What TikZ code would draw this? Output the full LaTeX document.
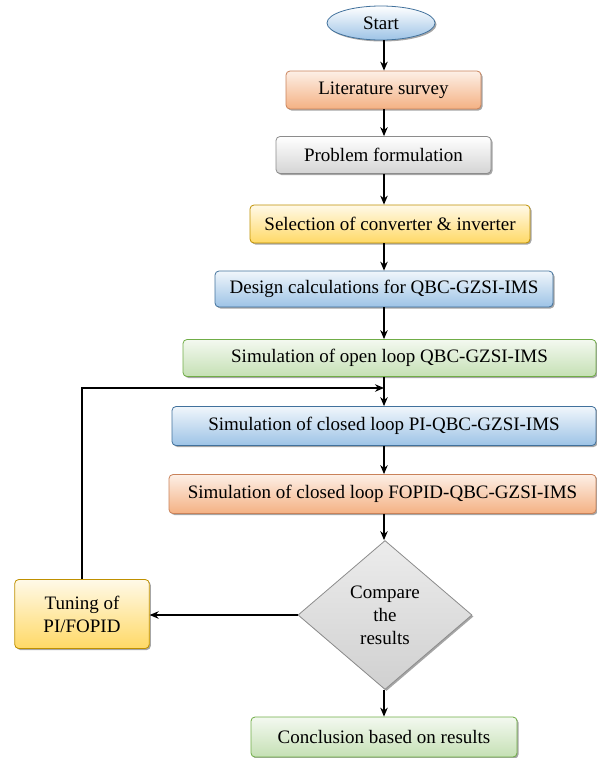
\documentclass[tikz,border=0pt]{standalone}
\usepackage{fontspec}
\setmainfont{Liberation Serif}
\usetikzlibrary{shapes.geometric,arrows.meta,shadows}
\definecolor{orngB}{HTML}{F4B183}
\definecolor{orngD}{HTML}{C9825A}
\definecolor{gryB}{HTML}{D4D4D4}
\definecolor{gryD}{HTML}{8C8C8C}
\definecolor{yelB}{HTML}{FFD966}
\definecolor{yelD}{HTML}{BF9000}
\definecolor{bluB}{HTML}{9DC3E6}
\definecolor{bluD}{HTML}{41719C}
\definecolor{grnB}{HTML}{C5E0B4}
\definecolor{grnD}{HTML}{70AD47}
\definecolor{dmdB}{HTML}{D0D0D0}
\begin{document}
\begin{tikzpicture}[x=1pt,y=-1pt,
  txt/.style={font=\fontsize{19}{23}\selectfont},
  shad/.style={drop shadow={shadow xshift=1.5pt,shadow yshift=-1.5pt,fill=black,opacity=0.35}},
  box/.style={txt,shad,draw,rounded corners=4pt,line width=0.8pt,minimum height=38pt,inner sep=2pt,align=center},
  orng/.style={box,draw=orngD,top color=orngB!20,bottom color=orngB},
  gry/.style={box,draw=gryD,top color=white,bottom color=gryB},
  yel/.style={box,draw=yelD,top color=yelB!15,bottom color=yelB},
  blu/.style={box,draw=bluD,top color=bluB!15,bottom color=bluB},
  grn/.style={box,draw=grnD,top color=grnB!20,bottom color=grnB},
  arr/.style={draw=black,line width=1.2pt,-{Stealth[length=9pt,width=7.5pt]}}
]
\useasboundingbox (0,0) rectangle (597,758);
\coordinate (ax) at (384,0);
\node[txt,shad,ellipse,draw=bluD,line width=0.8pt,top color=white,bottom color=bluB,minimum width=108pt,minimum height=34pt,inner sep=0pt] (start) at (381,23) {Start};
\node[orng,minimum width=195pt] (lit) at (383.5,90) {Literature survey};
\node[gry,minimum width=215pt,minimum height=37pt] (prob) at (383.5,155) {Problem formulation};
\node[yel,minimum width=280pt] (sel) at (390,224) {Selection of converter \& inverter};
\node[blu,minimum width=338pt,minimum height=36pt] (des) at (384,289) {Design calculations for QBC-GZSI-IMS};
\node[grn,minimum width=413pt,minimum height=37pt] (open) at (389.5,358) {Simulation of open loop QBC-GZSI-IMS};
\node[blu,minimum width=424pt,minimum height=39pt] (pi) at (384,426) {Simulation of closed loop PI-QBC-GZSI-IMS};
\node[orng,minimum width=427pt,minimum height=39pt] (fopid) at (382.5,494) {Simulation of closed loop FOPID-QBC-GZSI-IMS};
\node[txt,shad,diamond,draw=gryD,line width=0.8pt,top color=white!60!dmdB,bottom color=dmdB,minimum width=174pt,minimum height=149pt,inner sep=0pt,align=center] (cmp) at (385,615) {Compare\\the\\results};
\node[yel,minimum width=134.5pt,minimum height=69pt] (tune) at (82,614) {Tuning of\\PI/FOPID};
\node[grn,minimum width=266pt,minimum height=40pt] (conc) at (384,737) {Conclusion based on results};
\coordinate (j) at (384,388);
\draw[arr] (start.south -| ax) -- (lit.north -| ax);
\draw[arr] (lit.south -| ax) -- (prob.north -| ax);
\draw[arr] (prob.south -| ax) -- (sel.north -| ax);
\draw[arr] (sel.south -| ax) -- (des.north -| ax);
\draw[arr] (des.south -| ax) -- (open.north -| ax);
\draw[arr] (open.south -| ax) -- (pi.north -| ax);
\draw[arr] (pi.south -| ax) -- (fopid.north -| ax);
\draw[arr] (fopid.south -| ax) -- (cmp.north -| ax);
\draw[arr] (cmp.south -| ax) -- (conc.north -| ax);
\draw[arr] (cmp.west) -- (cmp.west -| tune.east);
\draw[arr] (tune.north) |- (j);
\end{tikzpicture}
\end{document}
